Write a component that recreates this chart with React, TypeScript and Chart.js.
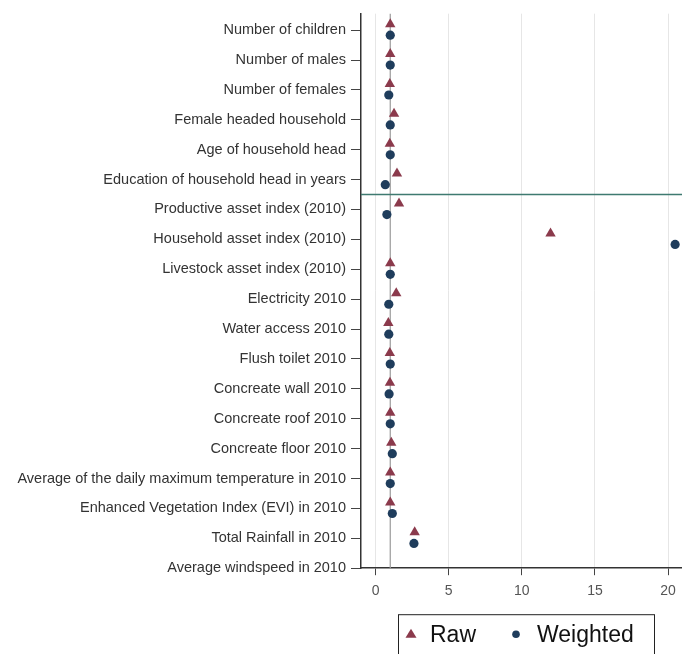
import React, { useEffect, useRef } from "react";
import { Chart, registerables } from "chart.js";

Chart.register(...registerables);

const categories = [
  "Number of children",
  "Number of males",
  "Number of females",
  "Female headed household",
  "Age of household head",
  "Education of household head in years",
  "Productive asset index (2010)",
  "Household asset index (2010)",
  "Livestock asset index (2010)",
  "Electricity 2010",
  "Water access 2010",
  "Flush toilet 2010",
  "Concreate wall 2010",
  "Concreate roof 2010",
  "Concreate floor 2010",
  "Average of the daily maximum temperature in 2010",
  "Enhanced Vegetation Index (EVI) in 2010",
  "Total Rainfall in 2010",
  "Average windspeed in 2010",
];

const rawValues: (number | null)[] = [
  1.0, 1.0, 0.97, 1.26, 0.97, 1.46, 1.6, 11.96, 1.0, 1.41, 0.87, 0.97, 0.98,
  1.0, 1.07, 1.0, 1.0, 2.67, null,
];

const weightedValues: (number | null)[] = [
  1.0, 1.0, 0.9, 1.0, 1.0, 0.66, 0.77, 20.48, 1.0, 0.9, 0.9, 1.0, 0.92, 1.0,
  1.14, 1.0, 1.14, 2.62, null,
];

const xTicks = [0, 5, 10, 15, 20];
const referenceX = 1;
const separatorAfterIndex = 5;

const RAW_COLOR = "#8b3a4c";
const WEIGHTED_COLOR = "#1f3d5c";
const FONT = "'Liberation Sans', Arial, sans-serif";

export default function App() {
  const canvasRef = useRef<HTMLCanvasElement | null>(null);

  useEffect(() => {
    document.body.style.margin = "0";
    const canvas = canvasRef.current;
    if (!canvas) return;

    const rawData = rawValues
      .map((v, i) => (v === null ? null : { x: v, y: i - 0.2 }))
      .filter((p) => p !== null);
    const wData = weightedValues
      .map((v, i) => (v === null ? null : { x: v, y: i + 0.17 }))
      .filter((p) => p !== null);

    const linesPlugin = {
      id: "refLines",
      beforeDatasetsDraw(chart: any) {
        const { ctx, chartArea, scales } = chart;
        ctx.save();
        const x1 = scales.x.getPixelForValue(referenceX);
        ctx.strokeStyle = "#9a9a9a";
        ctx.lineWidth = 1.2;
        ctx.beginPath();
        ctx.moveTo(x1, chartArea.top);
        ctx.lineTo(x1, chartArea.bottom);
        ctx.stroke();
        const yS = scales.y.getPixelForValue(separatorAfterIndex + 0.5);
        ctx.strokeStyle = "#3f7a70";
        ctx.lineWidth = 1.6;
        ctx.beginPath();
        ctx.moveTo(chartArea.left, yS);
        ctx.lineTo(chart.width, yS);
        ctx.stroke();
        ctx.restore();
      },
      afterDraw(chart: any) {
        const { ctx, chartArea } = chart;
        ctx.save();
        const boxL = chartArea.left + 37;
        const boxR = chartArea.left + 293;
        const boxT = chartArea.bottom + 46;
        ctx.strokeStyle = "#222";
        ctx.lineWidth = 1;
        ctx.strokeRect(boxL + 0.5, boxT + 0.5, boxR - boxL, 60);
        const cy = boxT + 20;
        ctx.font = `23px ${FONT}`;
        ctx.textBaseline = "middle";
        ctx.fillStyle = RAW_COLOR;
        ctx.beginPath();
        const tx = boxL + 13;
        ctx.moveTo(tx, cy - 5.5);
        ctx.lineTo(tx + 5.5, cy + 3.5);
        ctx.lineTo(tx - 5.5, cy + 3.5);
        ctx.closePath();
        ctx.fill();
        ctx.fillStyle = "#111";
        ctx.fillText(chart.data.datasets[0].label, boxL + 32, cy + 1);
        ctx.fillStyle = WEIGHTED_COLOR;
        ctx.beginPath();
        ctx.arc(boxL + 118, cy, 3.8, 0, Math.PI * 2);
        ctx.fill();
        ctx.fillStyle = "#111";
        ctx.fillText(chart.data.datasets[1].label, boxL + 139, cy + 1);
        ctx.restore();
      },
    };

    const chart = new Chart(canvas, {
      type: "scatter",
      data: {
        datasets: [
          {
            label: "Raw",
            data: rawData as any,
            pointStyle: "triangle",
            pointRadius: 6,
            backgroundColor: RAW_COLOR,
            borderColor: RAW_COLOR,
            borderWidth: 0,
          },
          {
            label: "Weighted",
            data: wData as any,
            pointStyle: "circle",
            pointRadius: 4.6,
            backgroundColor: WEIGHTED_COLOR,
            borderColor: WEIGHTED_COLOR,
            borderWidth: 0,
          },
        ],
      },
      options: {
        animation: false,
        responsive: false,
        maintainAspectRatio: false,
        clip: false as any,
        layout: {
          autoPadding: false,
          padding: { top: 13, right: 0, bottom: 46, left: 0 },
        },
        plugins: {
          legend: { display: false },
          tooltip: { enabled: false },
        },
        scales: {
          x: {
            type: "linear",
            min: -1,
            max: 20.95,
            afterBuildTicks(axis: any) {
              axis.ticks = xTicks.map((v) => ({ value: v }));
            },
            afterFit(axis: any) {
              axis.paddingRight = 0;
              axis.paddingLeft = 0;
            },
            grid: {
              color: "#e6e6e6",
              lineWidth: 1,
              drawTicks: true,
              tickLength: 7,
              tickColor: "#444",
            },
            border: { display: true, color: "#333", width: 1.5 },
            ticks: {
              color: "#555",
              font: { size: 14, family: FONT },
              padding: 8,
              maxRotation: 0,
            },
          },
          y: {
            type: "linear",
            reverse: true,
            min: -0.55,
            max: 18,
            afterBuildTicks(axis: any) {
              axis.ticks = categories.map((_, i) => ({ value: i }));
            },
            afterFit(axis: any) {
              axis.width = 361;
            },
            grid: {
              drawOnChartArea: false,
              drawTicks: true,
              tickLength: 10,
              tickColor: "#444",
            },
            border: { display: true, color: "#333", width: 1.5 },
            ticks: {
              color: "#333",
              font: { size: 14.5, family: FONT },
              padding: 5,
              autoSkip: false,
              callback: (v: any) => categories[v as number] ?? "",
            },
          },
        },
      },
      plugins: [linesPlugin],
    });

    return () => chart.destroy();
  }, []);

  return (
    <div style={{ position: "fixed", left: 0, top: 0, width: 682, height: 654, background: "#fff" }}>
      <canvas ref={canvasRef} width={682} height={654} style={{ width: 682, height: 654 }} />
    </div>
  );
}
